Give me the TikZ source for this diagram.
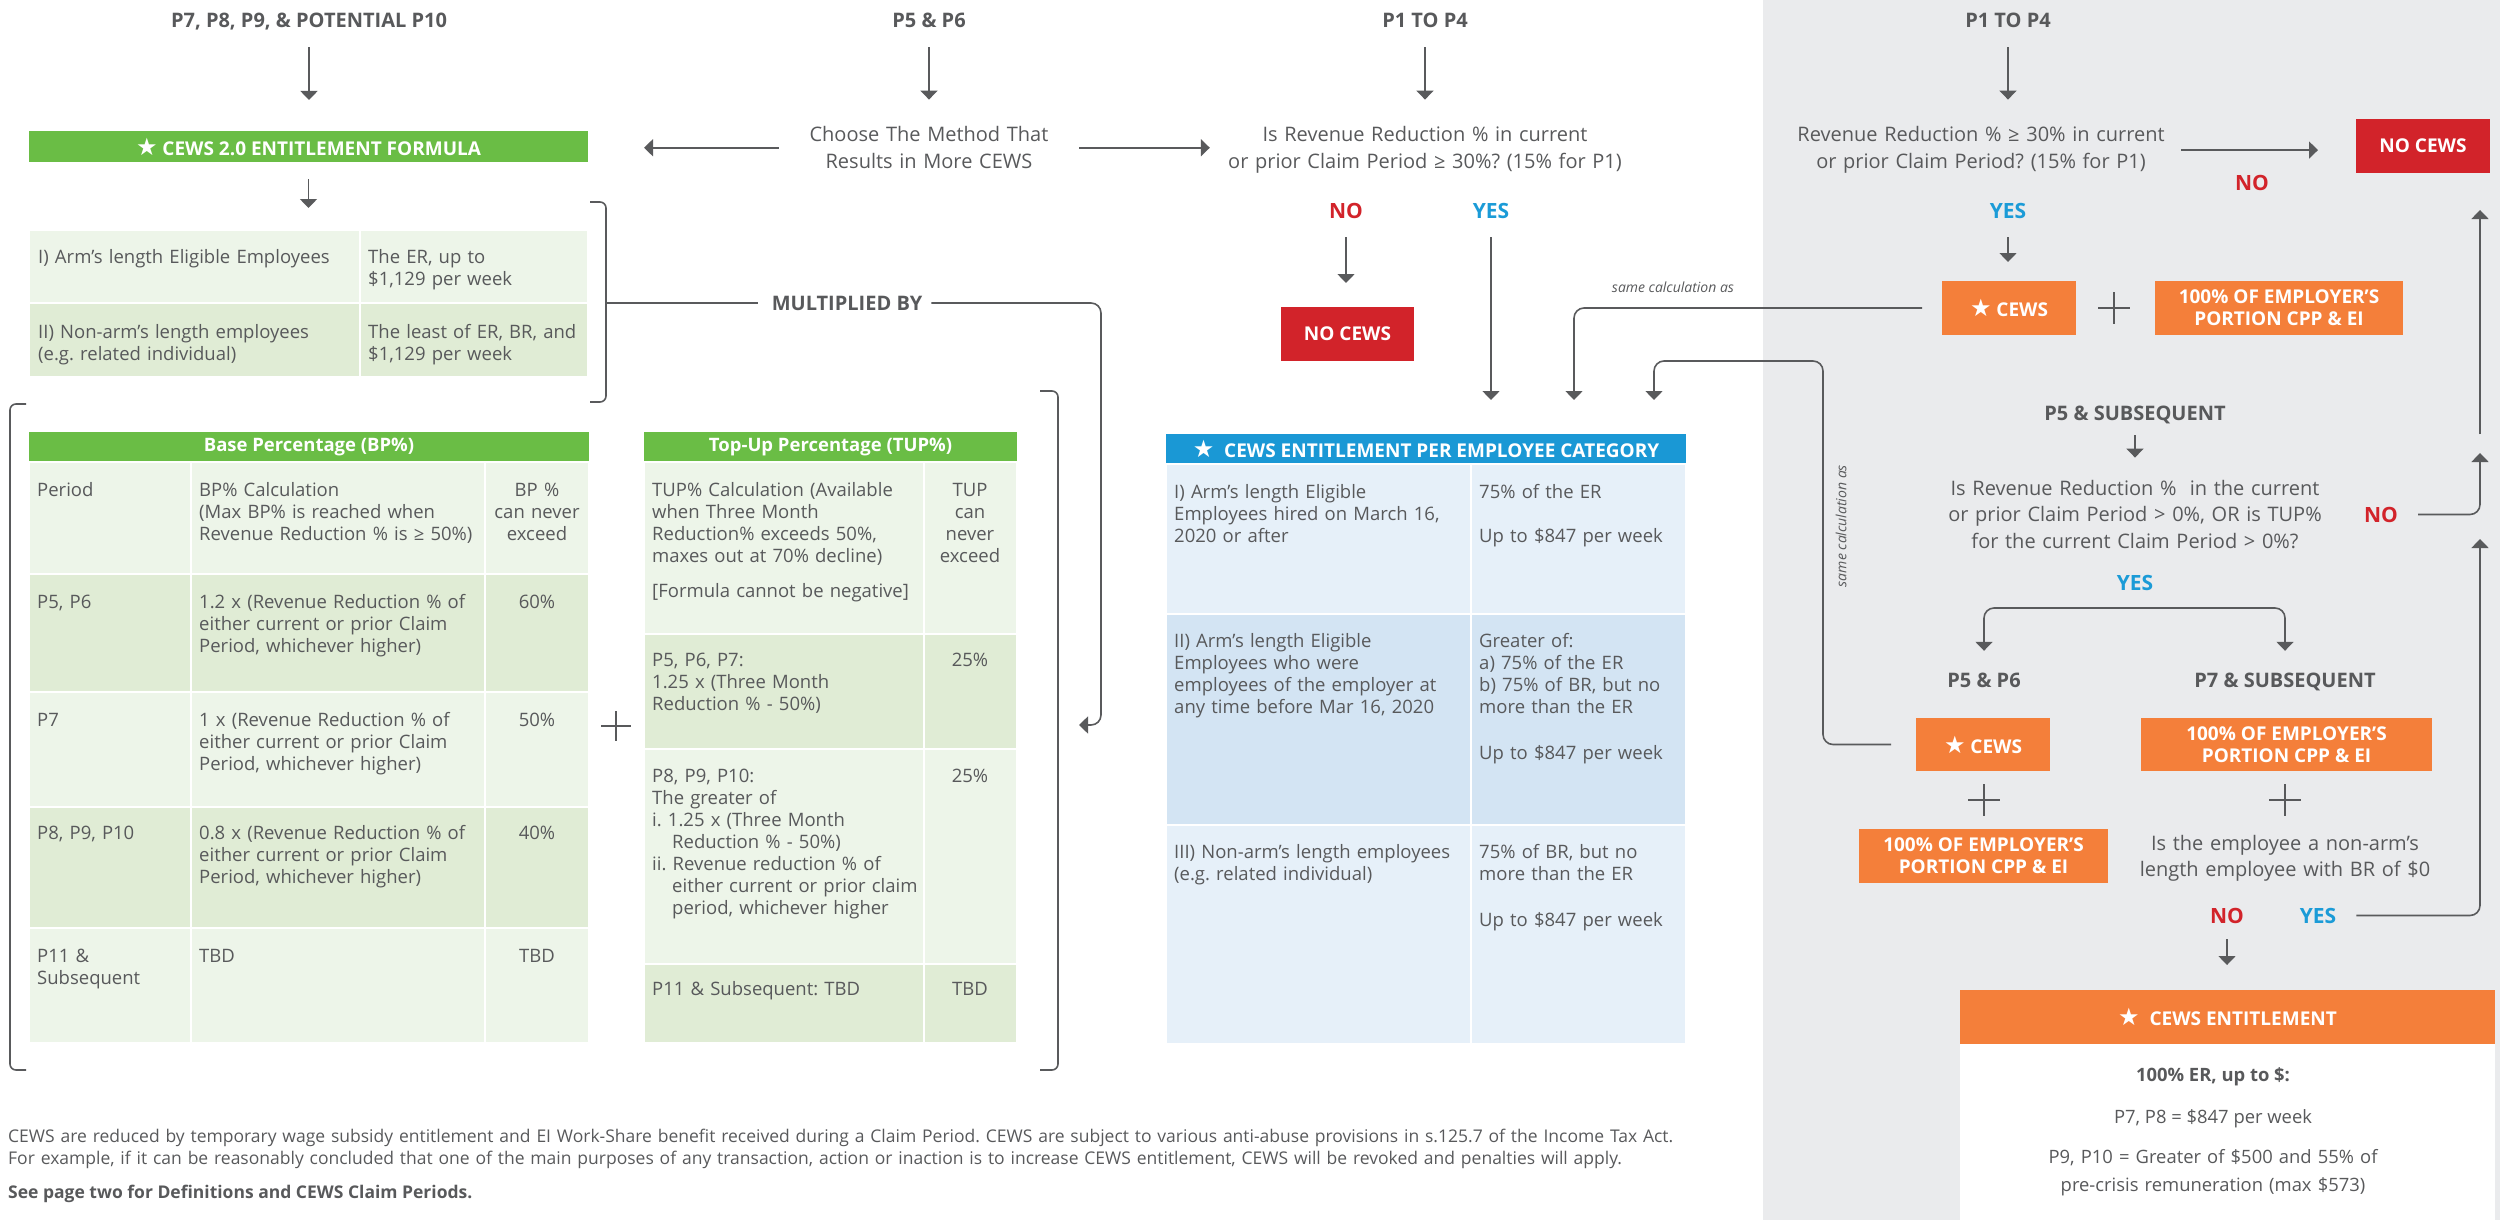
\documentclass[tikz,border=0pt]{standalone}
\usepackage{fontspec}
\setmainfont{Open Sans}
\newfontfamily\symf{DejaVu Sans}
\usetikzlibrary{arrows.meta}
\frenchspacing
\definecolor{txt}{HTML}{58595B}
\definecolor{lnc}{HTML}{595A5C}
\definecolor{grn}{HTML}{6ABD45}
\definecolor{lg1}{HTML}{EDF5E9}
\definecolor{lg2}{HTML}{E0ECD5}
\definecolor{blu}{HTML}{1A98D5}
\definecolor{lb1}{HTML}{E6F0F9}
\definecolor{lb2}{HTML}{D3E4F3}
\definecolor{org}{HTML}{F47F3A}
\definecolor{rd}{HTML}{D2232A}
\definecolor{gbg}{HTML}{EAEBED}
\definecolor{yb}{HTML}{1B9BD7}
\newcommand\FHd{\bfseries\fontsize{20}{24}\selectfont}
\newcommand\FQ{\fontsize{20}{26.5}\selectfont}
\newcommand\FTb{\fontsize{18.5}{22}\selectfont}
\newcommand\FBx{\bfseries\fontsize{19}{22}\selectfont}
\newcommand\FYn{\bfseries\fontsize{21}{24}\selectfont}
\newcommand\FIt{\itshape\fontsize{14}{17}\selectfont}
\newcommand\FFt{\fontsize{17.5}{22}\selectfont}
\newcommand\FEn{\fontsize{18.4}{28}\selectfont}
\newcommand\Star{{\symf\fontsize{24}{24}\selectfont ★}}
\newcommand\cel[6]{\node[cell,fill=#6,minimum width=#4pt-#2pt,minimum height=#5pt-#3pt] (#1) at (#2,#3) {};}
\begin{document}
\begin{tikzpicture}[x=1pt,y=-1pt,
 arr/.style={draw=lnc, line width=1.6pt, -{Triangle[width=17pt,length=9pt]}},
 lnk/.style={draw=lnc, line width=1.6pt},
 brk/.style={draw=lnc, line width=1.6pt, rounded corners=6pt},
 pls/.style={draw=txt, line width=1.4pt},
 cell/.style={draw=white, line width=2pt, inner sep=0pt, outer sep=0pt, anchor=north west},
 bx/.style={anchor=north west, inner sep=0pt, outer sep=0pt, text=white, font=\FBx, align=center},
 hd/.style={font=\FHd, text=txt, inner sep=0pt, anchor=base, text height=15pt, text depth=4pt},
 yn/.style={font=\FYn, inner sep=0pt, anchor=base, text height=15pt, text depth=0pt},
 qt/.style={font=\FQ, text=txt, inner sep=0pt, anchor=base, align=center, text width=#1},
 tb/.style={font=\FTb, text=txt, inner sep=0pt, anchor=base west, align=left, text width=#1},
 tbc/.style={font=\FTb, text=txt, inner sep=0pt, anchor=base, align=center, text width=#1},
 hbar/.style={bx, fill=grn, font=\bfseries\fontsize{18.5}{22}\selectfont, minimum height=30pt}
]
\useasboundingbox (0,0) rectangle (2500,1220);
\fill[gbg] (1763,0) rectangle (2500,1220);

% ---------- headings
\node[hd] (h1) at (309,28) {P7, P8, P9, \& POTENTIAL P10};
\node[hd] (h2) at (929,28) {P5 \& P6};
\node[hd] (h3) at (1425,28) {P1 TO P4};
\node[hd] (h4) at (2008,28) {P1 TO P4};

% ---------- formula bar
\node[bx, fill=grn, minimum width=559pt, minimum height=31pt] (cbar) at (29,131) {\Star\ CEWS 2.0 ENTITLEMENT FORMULA};
\draw[arr, shorten <=15pt, shorten >=31pt] (h1.south) -- (h1.south |- cbar.north);

\node[qt=300pt] (choose) at (929,142) {Choose The Method That\\Results in More CEWS};
\draw[arr, shorten <=15pt, shorten >=27pt] (h2.south) -- (choose.north);
\draw[arr, shorten >=56pt] (choose.west) -- (choose.west -| cbar.east);

\node[qt=400pt] (q1) at (1425,142) {Is Revenue Reduction \% in current\\or prior Claim Period ≥ 30\%? (15\% for P1)};
\draw[arr, shorten >=15pt] (choose.east) -- (choose.east -| q1.west);
\draw[arr, shorten <=15pt, shorten >=27pt] (h3.south) -- (q1.north);

% ---------- table 1
\cel{t1a}{29}{230}{360}{303}{lg1}
\cel{t1b}{360}{230}{588}{303}{lg1}
\cel{t1c}{29}{303}{360}{377}{lg2}
\cel{t1d}{360}{303}{588}{377}{lg2}
\draw[arr, shorten <=17pt, shorten >=22pt] (cbar.south) -- (cbar.south |- t1a.north);
\node[tb=320pt] (t1at) at (38,263) {I) Arm’s length Eligible Employees};
\node[tb=230pt] (t1bt) at (368,263) {The ER, up to\\\$1,129 per week};
\node[tb=320pt] (t1ct) at (38,338) {II) Non-arm’s length employees\\(e.g. related individual)};
\node[tb=230pt] (t1dt) at (368,338) {The least of ER, BR, and\\\$1,129 per week};

\draw[brk] (590,202) -- (606,202) -- (606,402) -- (590,402);
\coordinate (b1) at (606,303);
\node[hd] (mult) at (847,310) {MULTIPLIED BY};
\draw[lnk, shorten >=14pt] (b1) -- (b1 -| mult.west);
\coordinate (b2) at (1079,725);
\draw[arr, rounded corners=10pt, shorten <=9pt] (mult.east |- b1) -| (1101,725) -- (b2);

% ---------- brackets around BP / TUP
\draw[brk] (26,404) -- (10,404) -- (10,1070) -- (26,1070);
\draw[brk] (1040,391) -- (1058,391) -- (1058,1070) -- (1040,1070);

% ---------- BP table
\node[hbar, minimum width=560pt] (bph) at (29,432) {Base Percentage (BP\%)};
\cel{bp01}{29}{462}{191}{574}{lg1}
\cel{bp02}{191}{462}{485}{574}{lg1}
\cel{bp03}{485}{462}{589}{574}{lg1}
\cel{bp11}{29}{574}{191}{692}{lg2}
\cel{bp12}{191}{574}{485}{692}{lg2}
\cel{bp13}{485}{574}{589}{692}{lg2}
\cel{bp21}{29}{692}{191}{807}{lg1}
\cel{bp22}{191}{692}{485}{807}{lg1}
\cel{bp23}{485}{692}{589}{807}{lg1}
\cel{bp31}{29}{807}{191}{928}{lg2}
\cel{bp32}{191}{807}{485}{928}{lg2}
\cel{bp33}{485}{807}{589}{928}{lg2}
\cel{bp41}{29}{928}{191}{1043}{lg1}
\cel{bp42}{191}{928}{485}{1043}{lg1}
\cel{bp43}{485}{928}{589}{1043}{lg1}
\node[tb=150pt] (bpt01) at (37,496) {Period};
\node[tb=300pt] (bpt02) at (199,496) {BP\% Calculation\\(Max BP\% is reached when\\Revenue Reduction \% is ≥ 50\%)};
\node[tbc=100pt] (bpt03) at (537,496) {BP \%\\can never\\exceed};
\node[tb=150pt] (bpt11) at (37,608) {P5, P6};
\node[tb=300pt] (bpt12) at (199,608) {1.2 x (Revenue Reduction \% of\\either current or prior Claim\\Period, whichever higher)};
\node[tbc=100pt] (bpt13) at (537,608) {60\%};
\node[tb=150pt] (bpt21) at (37,726.5) {P7};
\node[tb=300pt] (bpt22) at (199,726.5) {1 x (Revenue Reduction \% of\\either current or prior Claim\\Period, whichever higher)};
\node[tbc=100pt] (bpt23) at (537,726.5) {50\%};
\node[tb=150pt] (bpt31) at (37,839.5) {P8, P9, P10};
\node[tb=300pt] (bpt32) at (199,839.5) {0.8 x (Revenue Reduction \% of\\either current or prior Claim\\Period, whichever higher)};
\node[tbc=100pt] (bpt33) at (537,839.5) {40\%};
\node[tb=150pt] (bpt41) at (37,962.5) {P11 \&\\Subsequent};
\node[tb=300pt] (bpt42) at (199,962.5) {TBD};
\node[tbc=100pt] (bpt43) at (537,962.5) {TBD};

\draw[pls] (601,726) -- (631,726) (616,711) -- (616,741);

% ---------- TUP table
\node[hbar, minimum width=373pt] (tuph) at (644,432) {Top-Up Percentage (TUP\%)};
\cel{tu01}{644}{462}{924}{634}{lg1}
\cel{tu02}{924}{462}{1017}{634}{lg1}
\cel{tu11}{644}{634}{924}{749}{lg2}
\cel{tu12}{924}{634}{1017}{749}{lg2}
\cel{tu21}{644}{749}{924}{964}{lg1}
\cel{tu22}{924}{749}{1017}{964}{lg1}
\cel{tu31}{644}{964}{924}{1043}{lg2}
\cel{tu32}{924}{964}{1017}{1043}{lg2}
\node[tb=320pt] (tut01) at (652,496) {TUP\% Calculation (Available\\when Three Month\\Reduction\% exceeds 50\%,\\maxes out at 70\% decline)\\[13.5pt][Formula cannot be negative]};
\node[tbc=90pt] (tut02) at (970,496) {TUP\\can\\never\\exceed};
\node[tb=320pt] (tut11) at (652,666.5) {P5, P6, P7:\\1.25 x (Three Month\\Reduction \% - 50\%)};
\node[tbc=90pt] (tut12) at (970,666.5) {25\%};
\node[tb=320pt] (tut21) at (652,782.5) {P8, P9, P10:\\The greater of\\i. 1.25 x (Three Month\\\hspace*{20pt}Reduction \% - 50\%)\\ii. Revenue reduction \% of\\\hspace*{20pt}either current or prior claim\\\hspace*{20pt}period, whichever higher};
\node[tbc=90pt] (tut22) at (970,782.5) {25\%};
\node[tb=320pt] (tut31) at (652,995.5) {P11 \& Subsequent: TBD};
\node[tbc=90pt] (tut32) at (970,995.5) {TBD};

% ---------- middle flow
\node[yn, text=rd] (no1) at (1346,218) {NO};
\node[yn, text=yb] (yes1) at (1491,218) {YES};
\node[bx, fill=rd, minimum width=133pt, minimum height=54pt] (nocews1) at (1281,307) {NO CEWS};
\draw[arr, shorten <=19pt, shorten >=24pt] (no1.south) -- (no1.south |- nocews1.north);

\node[bx, fill=blu, minimum width=520pt, minimum height=30pt] (bluehdr) at (1166,434) {\Star\ \ CEWS ENTITLEMENT PER EMPLOYEE CATEGORY};
\draw[arr, shorten <=19pt, shorten >=34pt] (yes1.south) -- (yes1.south |- bluehdr.north);
\cel{bl11}{1166}{464}{1471}{614}{lb1}
\cel{bl12}{1471}{464}{1686}{614}{lb1}
\cel{bl21}{1166}{614}{1471}{825}{lb2}
\cel{bl22}{1471}{614}{1686}{825}{lb2}
\cel{bl31}{1166}{825}{1471}{1044}{lb1}
\cel{bl32}{1471}{825}{1686}{1044}{lb1}
\node[tb=300pt] (blt11) at (1174,498.5) {I) Arm’s length Eligible\\Employees hired on March 16,\\2020 or after};
\node[tb=210pt] (blt12) at (1479,498.5) {75\% of the ER\\[22pt]Up to \$847 per week};
\node[tb=300pt] (blt21) at (1174,647.5) {II) Arm’s length Eligible\\Employees who were\\employees of the employer at\\any time before Mar 16, 2020};
\node[tb=210pt] (blt22) at (1479,647.5) {Greater of:\\a) 75\% of the ER\\b) 75\% of BR, but no\\more than the ER\\[24pt]Up to \$847 per week};
\node[tb=300pt] (blt31) at (1174,858.5) {III) Non-arm’s length employees\\(e.g. related individual)};
\node[tb=210pt] (blt32) at (1479,858.5) {75\% of BR, but no\\more than the ER\\[24pt]Up to \$847 per week};

% ---------- right panel
\node[qt=400pt] (q2) at (1981,142) {Revenue Reduction \% ≥ 30\% in current\\or prior Claim Period? (15\% for P1)};
\draw[arr, shorten <=15pt, shorten >=27pt] (h4.south) -- (h4.south |- q2.north);
\node[bx, fill=rd, minimum width=134pt, minimum height=54pt] (nocews2) at (2356,119) {NO CEWS};
\draw[arr, shorten >=38pt] (q2.east) -- (q2.east -| nocews2.west);
\node[yn, text=rd] (no2) at (2252,190) {NO};
\node[yn, text=yb] (yes2) at (2008,218) {YES};
\node[bx, fill=org, minimum width=134pt, minimum height=54pt] (cewsA) at (1942,281) {\Star\ CEWS};
\draw[arr, shorten <=19pt, shorten >=19pt] (yes2.south) -- (yes2.south |- cewsA.north);
\draw[pls] (2098,308) -- (2130,308) (2114,292) -- (2114,324);
\node[bx, fill=org, minimum width=248pt, minimum height=54pt] (emp1) at (2155,281) {100\% OF EMPLOYER’S\\PORTION CPP \& EI};

\node[font=\FIt, text=txt, inner sep=0pt] (sc1) at (1673,287) {same calculation as};
\draw[arr, rounded corners=10pt, shorten <=20pt, shorten >=34pt] (cewsA.west) -| ([xshift=148pt]bluehdr.north);

\coordinate (j1) at (2480,434);
\draw[arr, shorten >=37pt] (j1) -- (j1 |- nocews2.south);

\node[hd] (p5sub) at (2135,420) {P5 \& SUBSEQUENT};
\node[qt=420pt] (q3) at (2135,495) {Is Revenue Reduction \%\ \ in the current\\or prior Claim Period > 0\%, OR is TUP\%\\for the current Claim Period > 0\%?};
\draw[arr, shorten <=11pt, shorten >=22pt] (p5sub.south) -- (q3.north);
\node[yn, text=rd] (no3) at (2381,522) {NO};
\coordinate (j2) at (2480,453);
\draw[arr, rounded corners=10pt, shorten <=20pt] (no3.east) -| (j2);
\node[yn, text=yb] (yes3) at (2135,590) {YES};
\coordinate (sp) at (2135,608);
\node[hd] (p56) at (1984,687) {P5 \& P6};
\node[hd] (p7s) at (2285,687) {P7 \& SUBSEQUENT};
\draw[arr, rounded corners=10pt, shorten >=21pt] (sp) -| (p56.north);
\draw[arr, rounded corners=10pt, shorten >=21pt] (sp) -| (p7s.north);

\node[bx, fill=org, minimum width=134pt, minimum height=53pt] (cewsB) at (1916,718) {\Star\ CEWS};
\node[bx, fill=org, minimum width=291pt, minimum height=53pt] (emp2) at (2141,718) {100\% OF EMPLOYER’S\\PORTION CPP \& EI};
\draw[pls] (1968,800) -- (2000,800) (1984,784) -- (1984,816);
\draw[pls] (2269,800) -- (2301,800) (2285,784) -- (2285,816);
\node[bx, fill=org, minimum width=249pt, minimum height=54pt] (emp3) at (1859,829) {100\% OF EMPLOYER’S\\PORTION CPP \& EI};
\node[qt=360pt] (q4) at (2285,850) {Is the employee a non-arm’s\\length employee with BR of \$0};
\node[yn, text=rd] (no4) at (2227,923) {NO};
\node[yn, text=yb] (yes4) at (2318,923) {YES};
\coordinate (j3) at (2480,539);
\draw[arr, rounded corners=10pt, shorten <=20pt] (yes4.east) -| (j3);

\draw[arr, rounded corners=10pt, shorten <=25pt, shorten >=34pt] (cewsB.west) -| (1823,361) -| ([xshift=228pt]bluehdr.north);
\node[font=\FIt, text=txt, inner sep=0pt, rotate=90] (sc2) at (1841,526) {same calculation as};

\node[bx, fill=org, minimum width=535pt, minimum height=54pt] (enth) at (1960,990) {\Star\ \ CEWS ENTITLEMENT};
\draw[arr, shorten <=16pt, shorten >=25pt] (no4.south) -- (no4.south |- enth.north);
\node[cell, draw=none, fill=white, minimum width=535pt, minimum height=176pt] (entb) at (1960,1044) {};
\node[font=\bfseries\FEn, text=txt, inner sep=0pt, anchor=base] (en1) at (2213,1081.5) {100\% ER, up to \$:};
\node[font=\FEn, text=txt, inner sep=0pt, anchor=base] (en2) at (2213,1123.5) {P7, P8 = \$847 per week};
\node[font=\FEn, text=txt, inner sep=0pt, anchor=base, align=center, text width=440pt] (en3) at (2213,1163.5) {P9, P10 = Greater of \$500 and 55\% of\\pre-crisis remuneration (max \$573)};

% ---------- footer
\node[font=\FFt, text=txt, inner sep=0pt, anchor=base west, align=left, text width=1800pt] (foot1) at (8,1142) {CEWS are reduced by temporary wage subsidy entitlement and EI Work-Share benefit received during a Claim Period. CEWS are subject to various anti-abuse provisions in s.125.7 of the Income Tax Act.\\For example, if it can be reasonably concluded that one of the main purposes of any transaction, action or inaction is to increase CEWS entitlement, CEWS will be revoked and penalties will apply.};
\node[font=\bfseries\FFt, text=txt, inner sep=0pt, anchor=base west] (foot2) at (8,1198) {See page two for Definitions and CEWS Claim Periods.};
\end{tikzpicture}
\end{document}
